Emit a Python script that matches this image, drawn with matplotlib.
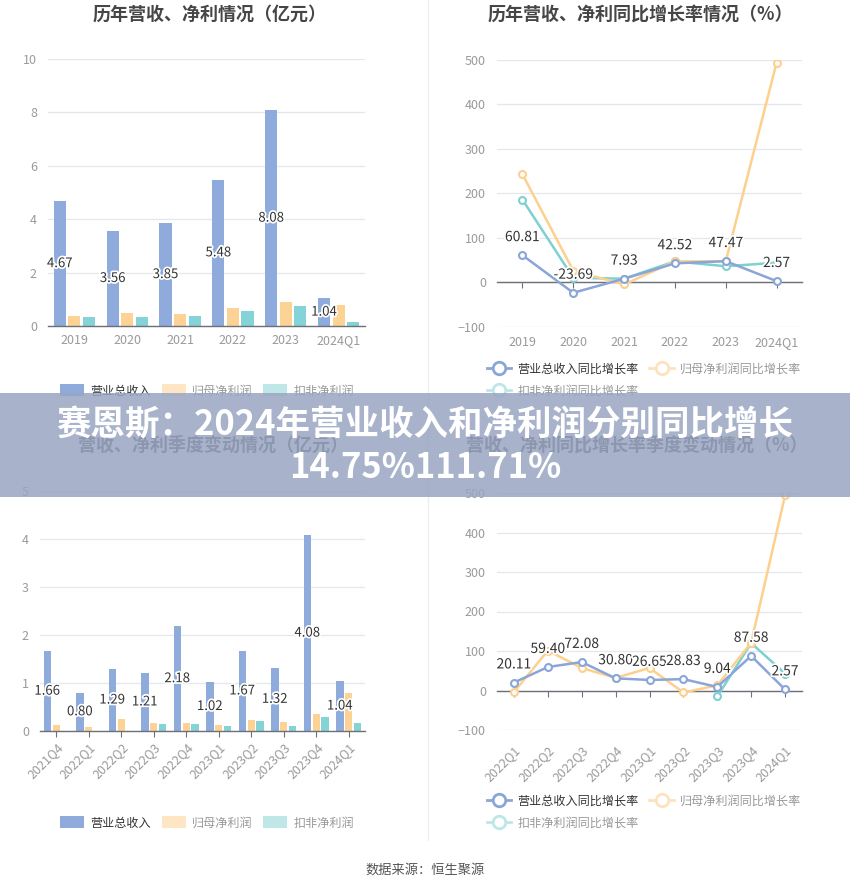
import matplotlib.pyplot as plt
import matplotlib.patheffects as pe
from matplotlib.lines import Line2D
from matplotlib.patches import Rectangle
import numpy as np

plt.rcParams['font.family'] = ['Noto Sans CJK SC', 'DejaVu Sans']

# ---- data ----
years = ["2019", "2020", "2021", "2022", "2023", "2024Q1"]
rev_y = [4.67, 3.56, 3.85, 5.48, 8.08, 1.04]
np_y = [0.38, 0.47, 0.44, 0.67, 0.91, 0.80]
dnp_y = [0.32, 0.35, 0.39, 0.57, 0.76, 0.16]

rev_g_y = [60.81, -23.69, 7.93, 42.52, 47.47, 2.57]
np_g_y = [243, 26, -5, 47, 47, 494]
dnp_g_y = [186, 10, 8, 47, 36, 44]

quarters = ["2021Q4", "2022Q1", "2022Q2", "2022Q3", "2022Q4",
            "2023Q1", "2023Q2", "2023Q3", "2023Q4", "2024Q1"]
rev_q = [1.66, 0.80, 1.29, 1.21, 2.18, 1.02, 1.67, 1.32, 4.08, 1.04]
np_q = [0.13, 0.08, 0.24, 0.16, 0.17, 0.13, 0.22, 0.18, 0.36, 0.80]
dnp_q = [np.nan, np.nan, np.nan, 0.15, 0.14, 0.11, 0.21, 0.11, 0.30, 0.16]

quarters_g = ["2022Q1", "2022Q2", "2022Q3", "2022Q4", "2023Q1",
              "2023Q2", "2023Q3", "2023Q4", "2024Q1"]
rev_g_q = [20.11, 59.40, 72.08, 30.80, 26.65, 28.83, 9.04, 87.58, 2.57]
np_g_q = [-4, 101, 57, 32, 57, -5, 13, 121, 494]
dnp_g_q = [np.nan, np.nan, np.nan, np.nan, np.nan, np.nan, -15, 120, 43]

bar_labels = ["营业总收入", "归母净利润", "扣非净利润"]
line_labels = ["营业总收入同比增长率", "归母净利润同比增长率", "扣非净利润同比增长率"]

C_REV = "#8eabdb"
C_NP = "#fdd395"
C_DNP = "#84d3d6"
C_REV_L = "#8aa6d8"
C_NP_L = "#fdd08e"
C_DNP_L = "#7fd0d1"
GRID = "#e3e7ef"
TICK = "#9a9a9a"
TXT = "#333333"

W, H = 850, 890
fig = plt.figure(figsize=(W / 100, H / 100), dpi=100)
fig.patch.set_facecolor("white")


def px_axes(x0, y0, x1, y1):
    return fig.add_axes([x0 / W, 1 - y1 / H, (x1 - x0) / W, (y1 - y0) / H])


halo = [pe.withStroke(linewidth=2.5, foreground="white")]


def style_axes(ax, ylim, yticks):
    ax.set_ylim(*ylim)
    ax.set_yticks(yticks)
    ax.grid(axis="y", color=GRID, lw=0.9)
    ax.set_axisbelow(True)
    for s in ["top", "right", "left"]:
        ax.spines[s].set_visible(False)
    ax.spines["bottom"].set_position(("data", 0))
    ax.spines["bottom"].set_color("#6e7079")
    ax.spines["bottom"].set_linewidth(1.0)
    ax.tick_params(axis="y", length=0, pad=8, labelsize=9, labelcolor=TICK)
    ax.tick_params(axis="x", length=4, color="#6e7079", labelsize=9,
                   labelcolor=TICK, pad=3)


def bar_panel(ax, cats, rev, npv, dnp, ylim, yticks, rotate):
    x = np.arange(len(cats))
    w = 0.23
    ax.bar(x - 0.275, rev, w, color=C_REV, zorder=2)
    ax.bar(x, npv, w, color=C_NP, zorder=2)
    ax.bar(x + 0.275, dnp, w, color=C_DNP, zorder=2)
    for xi, v in zip(x, rev):
        ax.text(xi - 0.275, v / 2, f"{v:.2f}", ha="center", va="center",
                fontsize=9.5, color=TXT, path_effects=halo, zorder=4)
    ax.set_xlim(-0.5, len(cats) - 0.5)
    style_axes(ax, ylim, yticks)
    ax.set_xticks(x)
    if rotate:
        ax.set_xticklabels(cats, rotation=45, ha="right", rotation_mode="anchor")
    else:
        ax.set_xticklabels(cats)
        ax.tick_params(axis="x", length=0, pad=6)
    ax.spines["bottom"].set_zorder(3)


def line_panel(ax, cats, rev, npv, dnp, ylim, yticks, rotate):
    x = np.arange(len(cats))
    mk = dict(marker="o", markersize=5, markerfacecolor="white",
              markeredgewidth=1.5, lw=1.8)
    ax.plot(x, dnp, color=C_DNP_L, zorder=3, **mk)
    ax.plot(x, npv, color=C_NP_L, zorder=3, **mk)
    ax.plot(x, rev, color=C_REV_L, zorder=4, **mk)
    for xi, v in zip(x, rev):
        ax.annotate(f"{v:.2f}", (xi, v), xytext=(0, 8),
                    textcoords="offset points", ha="center", va="bottom",
                    fontsize=10, color=TXT, path_effects=halo, zorder=6)
    ax.set_xlim(-0.5, len(cats) - 0.5)
    style_axes(ax, ylim, yticks)
    ax.set_xticks(x)
    if rotate:
        ax.set_xticklabels(cats, rotation=45, ha="right", rotation_mode="anchor")
    else:
        ax.set_xticklabels(cats)


def bar_legend(y_px):
    handles = [Rectangle((0, 0), 1, 1, facecolor=c, edgecolor="none")
               for c in [C_REV, "#fee6c4", "#bfe7e8"]]
    leg = fig.legend(handles, bar_labels, loc="center",
                     bbox_to_anchor=(207 / W, 1 - y_px / H), ncol=3,
                     frameon=False, fontsize=8.7, handlelength=2.0,
                     handleheight=1.15, handletextpad=0.5, columnspacing=0.9)
    for t, c in zip(leg.get_texts(), ["#333333", "#999999", "#999999"]):
        t.set_color(c)


def line_legend(y_px):
    hs = []
    for c in [C_REV_L, "#fde3bd", "#bde7e7"]:
        hs.append(Line2D([], [], color=c, lw=2, marker="o", markersize=9,
                         markerfacecolor="white", markeredgewidth=2))
    order = [0, 2, 1]
    leg = fig.legend([hs[i] for i in order], [line_labels[i] for i in order],
                     loc="center", bbox_to_anchor=(644 / W, 1 - y_px / H),
                     ncol=2, frameon=False, fontsize=8.7, handlelength=2.0,
                     handletextpad=0.5, columnspacing=0.9, labelspacing=0.75)
    cols = ["#333333", "#999999", "#999999"]
    for t, i in zip(leg.get_texts(), order):
        t.set_color(cols[i])


# ---- panels ----
ax1 = px_axes(48, 59, 365, 326)
bar_panel(ax1, years, rev_y, np_y, dnp_y, (0, 10), [0, 2, 4, 6, 8, 10], False)

ax2 = px_axes(497, 60, 802, 326.7)
line_panel(ax2, years, rev_g_y, np_g_y, dnp_g_y, (-100, 500),
           [-100, 0, 100, 200, 300, 400, 500], False)
ax2.tick_params(axis="x", pad=35)

ax3 = px_axes(40, 491, 365, 731)
bar_panel(ax3, quarters, rev_q, np_q, dnp_q, (0, 5), [0, 1, 2, 3, 4, 5], True)

ax4 = px_axes(497, 493, 802, 730)
line_panel(ax4, quarters_g, rev_g_q, np_g_q, dnp_g_q, (-100, 500),
           [-100, 0, 100, 200, 300, 400, 500], True)
ax4.tick_params(axis="x", pad=34)

# titles
title_kw = dict(ha="center", va="center", fontsize=13, fontweight="bold",
                color="#464646")
fig.text(210 / W, 1 - 14 / H, "历年营收、净利情况（亿元）", **title_kw)
fig.text(640 / W, 1 - 14 / H, "历年营收、净利同比增长率情况（%）", **title_kw)
fig.text(213 / W, 1 - 445 / H, "营收、净利季度变动情况（亿元）", **title_kw)
fig.text(637 / W, 1 - 445 / H, "营收、净利同比增长率季度变动情况（%）", **title_kw)

bar_legend(391)
bar_legend(823)
line_legend(380)
line_legend(812)

# divider
fig.add_artist(Line2D([428 / W, 428 / W], [1 - 840 / H, 1], color="#eeeeee",
                      lw=1, transform=fig.transFigure))

# footer
fig.text(425 / W, 1 - 870 / H, "数据来源：恒生聚源", ha="center", va="center",
         fontsize=9.5, color="#555555")

# banner
fig.add_artist(Rectangle((0, 1 - 497 / H), 1, 104 / H, transform=fig.transFigure,
                         facecolor="#99a6c2", alpha=0.85, edgecolor="none",
                         zorder=10))
fig.text(425 / W, 1 - 425 / H, "赛恩斯：2024年营业收入和净利润分别同比增长",
         ha="center", va="center", fontsize=24.8, fontweight="bold",
         color="white", zorder=11)
fig.text(425 / W, 1 - 467 / H, "14.75%111.71%", ha="center", va="center",
         fontsize=24.8, fontweight="bold", color="white", zorder=11)

fig.savefig("out.png", dpi=100)
